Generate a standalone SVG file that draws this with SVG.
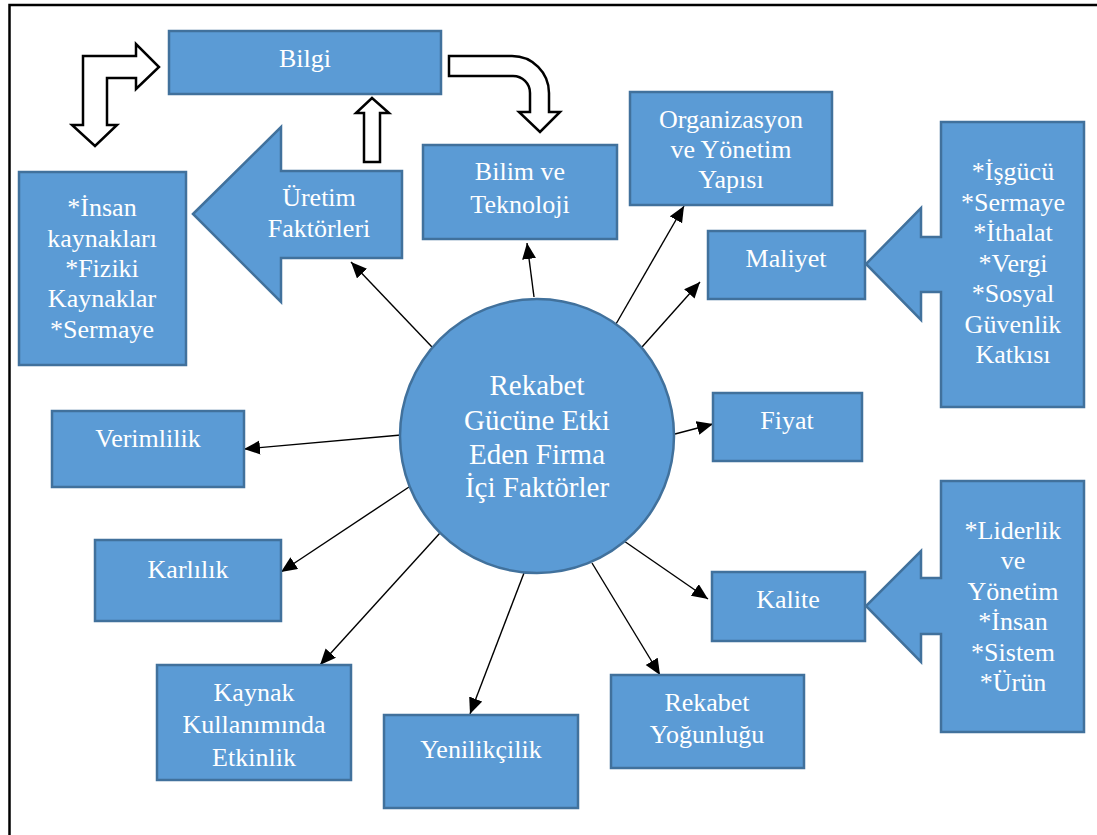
<svg xmlns="http://www.w3.org/2000/svg" width="1097" height="835" viewBox="0 0 1097 835">
  <style>
    .box { fill: #5B9BD5; stroke: #41719C; stroke-width: 2.5; }
    .hollow { fill: #FFFFFF; stroke: #000000; stroke-width: 2.5; stroke-linejoin: miter; }
    text { font-family: 'Liberation Serif', serif; font-size: 26px; fill: #FFFFFF; text-anchor: middle; }
    .big { font-size: 29px; }
    .edge { stroke: #000000; stroke-width: 1.4; fill: none; marker-end: url(#head); }
  </style>
  <defs>
    <marker id="head" markerUnits="userSpaceOnUse" markerWidth="17" markerHeight="15" refX="16" refY="7" orient="auto">
      <path d="M0,0 L16,7 L0,14 Z" fill="#000000"/>
    </marker>
  </defs>

  <rect width="1097" height="835" fill="#FFFFFF"/>
  <!-- page frame (left and top rules only) -->
  <path d="M9.5,835 V5 H1097" fill="none" stroke="#000000" stroke-width="2.5"/>

  <!-- hollow block arrows around Bilgi -->
  <g id="flow-arrows">
    <path class="hollow" d="M83,125 H72 L95,146 L117,125 H107 V78 H136 V89 L159,67 L136,44 V56 H83 Z"/>
    <path class="hollow" d="M449,56 H512 A37,37 0 0 1 549,93 V112 H560 L540,132 L519,112 H530 V93 A17,17 0 0 0 513,76 H449 Z"/>
    <path class="hollow" d="M364,162 V113 H356 L372,98 L389,113 H380 V162 Z"/>
  </g>

  <!-- connectors from the central factor -->
  <g id="connectors">
    <line class="edge" x1="534" y1="297" x2="527" y2="243"/>
    <line class="edge" x1="432" y1="347" x2="351" y2="262"/>
    <line class="edge" x1="616" y1="324" x2="684" y2="206"/>
    <line class="edge" x1="642" y1="347" x2="700" y2="282"/>
    <line class="edge" x1="675" y1="434" x2="713" y2="424"/>
    <line class="edge" x1="624" y1="541" x2="708" y2="599"/>
    <line class="edge" x1="592" y1="563" x2="660" y2="675"/>
    <line class="edge" x1="524" y1="573" x2="470" y2="714"/>
    <line class="edge" x1="440" y1="533" x2="320" y2="665"/>
    <line class="edge" x1="409" y1="487" x2="281" y2="572"/>
    <line class="edge" x1="401" y1="435" x2="244" y2="449"/>
  </g>

  <g id="center">
    <circle class="box" cx="537" cy="436" r="137"/>
    <text class="big" x="537" y="395" font-family="Liberation Serif">Rekabet</text>
    <text class="big" x="537" y="430" font-family="Liberation Serif">Gücüne Etki</text>
    <text class="big" x="537" y="464" font-family="Liberation Serif">Eden Firma</text>
    <text class="big" x="537" y="497" font-family="Liberation Serif">İçi Faktörler</text>
  </g>

  <g id="bilgi">
    <rect class="box" x="169" y="31" width="272" height="63"/>
    <text x="305" y="67">Bilgi</text>
  </g>

  <g id="kaynaklar">
    <rect class="box" x="19" y="172" width="167" height="193"/>
    <text x="102" y="216">*İnsan</text>
    <text x="102" y="247">kaynakları</text>
    <text x="102" y="277">*Fiziki</text>
    <text x="102" y="307">Kaynaklar</text>
    <text x="102" y="338">*Sermaye</text>
  </g>

  <g id="uretim">
    <path class="box" d="M193,214 L281,127 V171 H402 V258 H281 V302 Z"/>
    <text x="319" y="206">Üretim</text>
    <text x="319" y="237">Faktörleri</text>
  </g>

  <g id="bilim">
    <rect class="box" x="423" y="145" width="194" height="94"/>
    <text x="520" y="180">Bilim ve</text>
    <text x="520" y="213">Teknoloji</text>
  </g>

  <g id="organizasyon">
    <rect class="box" x="630" y="92" width="202" height="113"/>
    <text x="731" y="128">Organizasyon</text>
    <text x="731" y="158">ve Yönetim</text>
    <text x="731" y="188">Yapısı</text>
  </g>

  <g id="maliyet">
    <rect class="box" x="708" y="231" width="157" height="68"/>
    <text x="786" y="267">Maliyet</text>
  </g>

  <g id="maliyet-kalemleri">
    <path class="box" d="M941,122 H1084 V407 H941 V292 H921 V320 L866,264 L921,208 V237 H941 Z"/>
    <text x="1013" y="180">*İşgücü</text>
    <text x="1013" y="211">*Sermaye</text>
    <text x="1013" y="241">*İthalat</text>
    <text x="1013" y="272">*Vergi</text>
    <text x="1013" y="302">*Sosyal</text>
    <text x="1013" y="333">Güvenlik</text>
    <text x="1013" y="363">Katkısı</text>
  </g>

  <g id="fiyat">
    <rect class="box" x="713" y="393" width="149" height="68"/>
    <text x="787" y="429">Fiyat</text>
  </g>

  <g id="kalite">
    <rect class="box" x="712" y="572" width="153" height="69"/>
    <text x="788" y="608">Kalite</text>
  </g>

  <g id="kalite-unsurlari">
    <path class="box" d="M941,481 H1084 V732 H941 V634 H921 V662 L866,606 L921,551 V578 H941 Z"/>
    <text x="1013" y="539">*Liderlik</text>
    <text x="1013" y="569">ve</text>
    <text x="1013" y="600">Yönetim</text>
    <text x="1013" y="630">*İnsan</text>
    <text x="1013" y="661">*Sistem</text>
    <text x="1013" y="691">*Ürün</text>
  </g>

  <g id="rekabet-yogunlugu">
    <rect class="box" x="611" y="675" width="193" height="93"/>
    <text x="707" y="711">Rekabet</text>
    <text x="707" y="743">Yoğunluğu</text>
  </g>

  <g id="yenilikcilik">
    <rect class="box" x="384" y="715" width="194" height="93"/>
    <text x="481" y="758">Yenilikçilik</text>
  </g>

  <g id="kaynak-kullanimi">
    <rect class="box" x="157" y="665" width="194" height="115"/>
    <text x="254" y="701">Kaynak</text>
    <text x="254" y="733">Kullanımında</text>
    <text x="254" y="766">Etkinlik</text>
  </g>

  <g id="karlilik">
    <rect class="box" x="95" y="540" width="186" height="81"/>
    <text x="188" y="578">Karlılık</text>
  </g>

  <g id="verimlilik">
    <rect class="box" x="52" y="411" width="192" height="76"/>
    <text x="148" y="447">Verimlilik</text>
  </g>
</svg>
